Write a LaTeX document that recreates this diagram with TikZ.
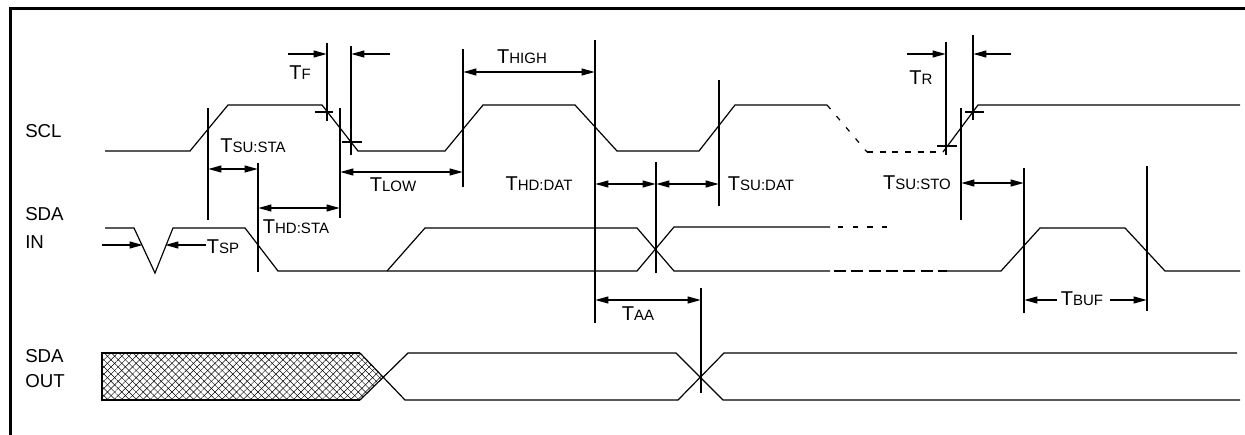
\documentclass[tikz,border=0pt]{standalone}
\usepackage{fontspec}
\setmainfont{Liberation Sans}
\usetikzlibrary{arrows.meta,patterns.meta}
\newcommand\Tlab[1]{{\fontsize{15}{15}\selectfont T}{\fontsize{11.25}{11.25}\selectfont #1}}
\begin{document}
\begin{tikzpicture}[x=0.75pt,y=-0.75pt,
  sig/.style={line width=0.9pt, line join=miter},
  vbar/.style={line width=1.5pt},
  tick/.style={line width=1.5pt},
  dimr/.style={line width=1.5pt,-{Triangle[length=10pt,width=5pt]}},
  ddim/.style={line width=1.5pt,{Triangle[length=10pt,width=5pt]}-{Triangle[length=10pt,width=5pt]}},
  lbl/.style={inner sep=0pt,anchor=west,font=\fontsize{14}{14}\selectfont},
  tl/.style={inner sep=0pt}]
\useasboundingbox (0,0) rectangle (1245,435);
% frame
\draw[line width=2.25pt] (10,435) -- (10,9) -- (1245,9);

% signal names
\node[lbl] (scl) at (25,131) {SCL};
\node[lbl] (sdain1) at (25,214) {SDA};
\node[lbl] (sdain2) at (25,242) {IN};
\node[lbl] (sdaout1) at (25,356) {SDA};
\node[lbl] (sdaout2) at (25,381) {OUT};

% ---------------- SCL ----------------
\draw[sig] (105,151) -- (190,151) -- (228,105) -- (322,105) -- (358,151) -- (445,151)
  -- (483,105) -- (575,105) -- (617,151) -- (699,151) -- (735,105) -- (827,105);
\draw[sig, dash pattern=on 4pt off 7pt] (827,105) -- (867,152);
\draw[sig, dash pattern=on 4.5pt off 5pt] (867,152) -- (943,152);
\draw[sig] (943,152) -- (978,105) -- (1240,105);

% ---------------- SDA IN ----------------
\draw[sig] (105,228) -- (134,228) -- (155,273) -- (173,228) -- (245,228) -- (278,271)
  -- (637,271) -- (674,227) -- (830,227);
\draw[sig] (387,271) -- (425,228) -- (637,228) -- (674,271) -- (830,271);
\draw[sig, dash pattern=on 4pt off 7pt] (838,227) -- (894,227);
\draw[sig, dash pattern=on 9pt off 4pt] (834,271) -- (947,271);
\draw[sig] (947,271) -- (1001,271) -- (1040,228) -- (1125,228) -- (1165,271) -- (1240,271);

% ---------------- SDA OUT ----------------
\fill[pattern={Lines[angle=45,distance=3.8pt,line width=0.35pt]}]
  (102,353) -- (360,353) -- (383,377) -- (360,400) -- (102,400) -- cycle;
\fill[pattern={Lines[angle=-45,distance=3.8pt,line width=0.35pt]}]
  (102,353) -- (360,353) -- (383,377) -- (360,400) -- (102,400) -- cycle;
\draw[line width=1.4pt] (360,353) -- (102,353) -- (102,400) -- (360,400);
\draw[sig] (360,353) -- (405,400) -- (678,400) -- (724,353) -- (1237,353);
\draw[sig] (360,400) -- (408,353) -- (676,353) -- (723,400) -- (1240,400);

% ---------------- markers ----------------
\coordinate (m1t) at (208,108);  \coordinate (m1b) at (208,220);
\coordinate (m2t) at (258,163);  \coordinate (m2b) at (258,272);
\coordinate (m3t) at (327,43);   \coordinate (m3b) at (327,121);
\coordinate (m4t) at (351,46);   \coordinate (m4b) at (351,155);
\coordinate (m5t) at (340,108);  \coordinate (m5b) at (340,218);
\coordinate (m6t) at (463,49);   \coordinate (m6b) at (463,187);
\coordinate (m7t) at (595,40);   \coordinate (m7b) at (595,323);
\coordinate (m8t) at (656,162);  \coordinate (m8b) at (656,273);
\coordinate (m9t) at (719,80);   \coordinate (m9b) at (719,206);
\coordinate (m10t) at (946,42);  \coordinate (m10b) at (946,155);
\coordinate (m11t) at (973,35);  \coordinate (m11b) at (973,120);
\coordinate (m12t) at (961,108); \coordinate (m12b) at (961,220);
\coordinate (m13t) at (1024,168);\coordinate (m13b) at (1024,313);
\coordinate (m14t) at (1147,166);\coordinate (m14b) at (1147,311);
\coordinate (m15t) at (701,288); \coordinate (m15b) at (701,393);
\foreach \i in {1,...,15} { \draw[vbar] (m\i t) -- (m\i b); }

% crosses on edges
\draw[tick] (315,112) -- (333,112);
\draw[tick] (342,142) -- (362,142);
\draw[tick] (937,146) -- (957,146);
\draw[tick] (965,112) -- (984,112);

% ---------------- dimension arrows ----------------
% TF
\coordinate (tfa) at (288,54); \coordinate (tfb) at (390,54);
\draw[dimr] (tfa) -- (327,54);
\draw[dimr] (tfb) -- (351,54);
% TR
\coordinate (tra) at (907,54); \coordinate (trb) at (1011,54);
\draw[dimr] (tra) -- (946,54);
\draw[dimr] (trb) -- (973,54);
% TSU:STA
\draw[ddim] (208,169) -- (258,169);
% THD:STA
\draw[ddim] (258,208) -- (340,208);
% TLOW
\draw[ddim] (340,172) -- (463,172);
% THIGH
\draw[ddim] (463,72) -- (595,72);
% THD:DAT
\draw[ddim] (595,184) -- (656,184);
% TSU:DAT
\draw[ddim] (656,184) -- (719,184);
% TSU:STO
\draw[ddim] (961,183) -- (1024,183);
% TAA
\draw[ddim] (595,300) -- (701,300);
% TBUF
\coordinate (tbufa) at (1057,300); \coordinate (tbufb) at (1110,300);
\draw[dimr] (tbufa) -- (1024,300);
\draw[dimr] (tbufb) -- (1147,300);
% TSP
\coordinate (tspa) at (102,245); \coordinate (tspb) at (206,245);
\draw[dimr] (tspa) -- (143,245);
\draw[dimr] (tspb) -- (165,245);

% ---------------- timing labels ----------------
\node[tl] (lTF) at (300,73) {\Tlab{F}};
\node[tl] (lTSUSTA) at (253,146) {\Tlab{SU:STA}};
\node[tl] (lTLOW) at (393,185) {\Tlab{LOW}};
\node[tl] (lTHDSTA) at (296,227) {\Tlab{HD:STA}};
\node[tl] (lTHIGH) at (522,57) {\Tlab{HIGH}};
\node[tl] (lTHDDAT) at (539,184) {\Tlab{HD:DAT}};
\node[tl] (lTSUDAT) at (761,184) {\Tlab{SU:DAT}};
\node[tl] (lTR) at (921,78) {\Tlab{R}};
\node[tl] (lTSUSTO) at (917,183) {\Tlab{SU:STO}};
\node[tl] (lTSP) at (223,247) {\Tlab{SP}};
\node[tl] (lTAA) at (638,314) {\Tlab{AA}};
\node[tl] (lTBUF) at (1082,299) {\Tlab{BUF}};
\end{tikzpicture}
\end{document}
